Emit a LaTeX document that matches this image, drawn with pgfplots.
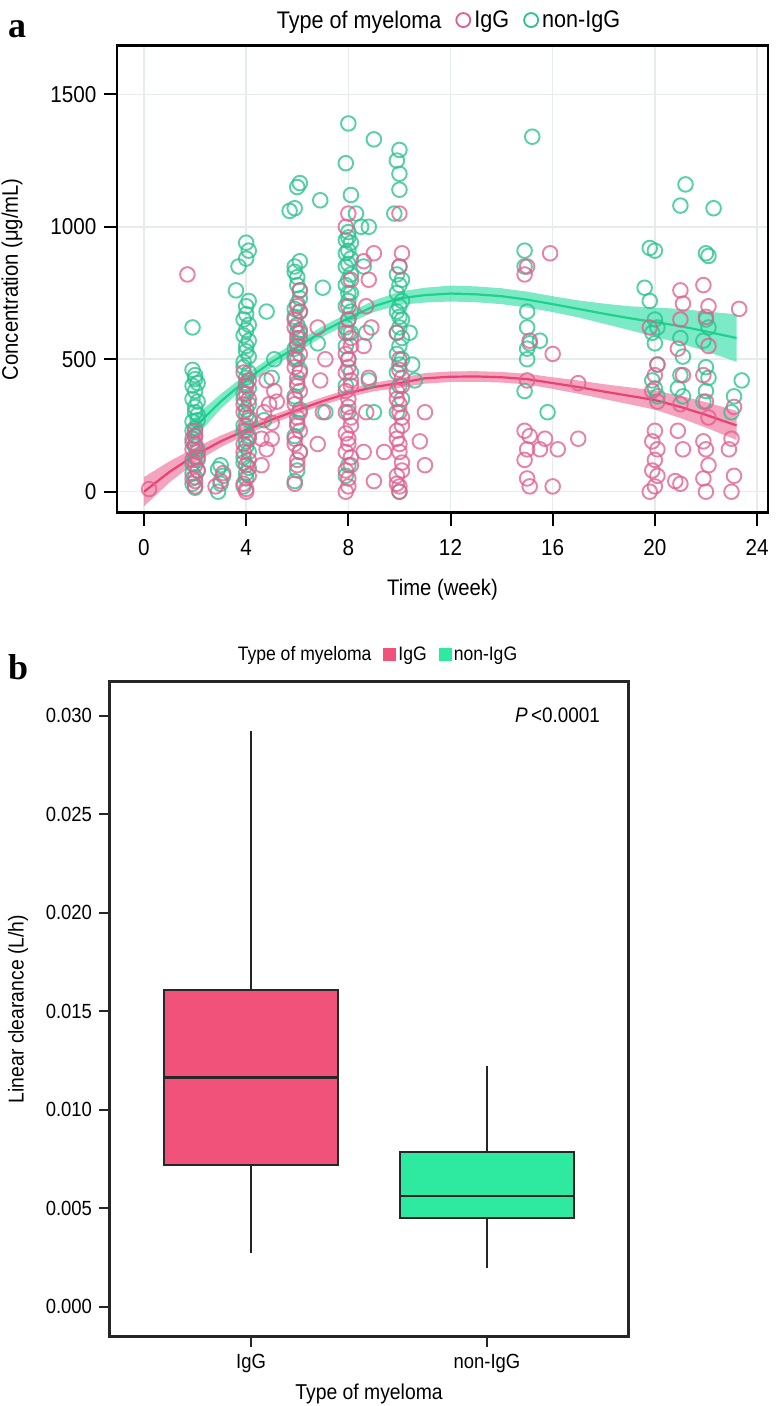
\documentclass[border=0pt]{standalone}
\usepackage{fontspec}
\setmainfont{Liberation Sans}[FakeStretch=0.9]
\newfontfamily\panelfont{Liberation Serif}
\usepackage{pgfplots}
\pgfplotsset{compat=1.18}
\usepgfplotslibrary{statistics}
\definecolor{iggpt}{RGB}{225,95,145}
\definecolor{nonpt}{RGB}{40,195,142}
\definecolor{iggline}{RGB}{232,66,112}
\definecolor{iggrib}{RGB}{240,125,162}
\definecolor{nonline}{RGB}{30,210,140}
\definecolor{nonrib}{RGB}{70,225,175}
\definecolor{iggbox}{RGB}{240,82,121}
\definecolor{nonbox}{RGB}{46,234,160}
\definecolor{gridc}{RGB}{230,235,235}
\definecolor{edgec}{RGB}{38,38,38}

\pgfplotstableread{
t y
1.9 30
2.0 55
2.1 80
1.9 105
2.0 130
2.1 160
1.9 185
2.0 210
2.0 240
1.9 265
2.1 290
2.0 320
1.9 350
2.0 380
2.1 410
2.0 440
1.9 460
1.9 620
2.0 15
1.9 70
2.1 120
2.0 170
1.9 230
2.1 270
2.0 300
2.1 340
1.9 400
2.0 425
2.9 0
3.0 30
3.1 60
2.9 85
3.0 100
3.9 20
4.0 50
4.1 90
3.9 130
4.0 170
4.1 210
3.9 250
4.0 290
4.1 330
3.9 370
4.0 410
4.1 450
3.9 490
4.0 530
4.1 570
4.0 610
3.9 650
4.0 700
4.0 70
3.9 110
4.1 150
4.0 190
3.9 230
4.1 270
4.0 310
3.9 350
4.1 390
4.0 430
3.9 470
4.1 510
4.0 550
3.9 590
4.1 630
4.0 670
4.1 720
3.6 760
3.7 850
4.0 880
4.1 910
4.0 940
4.7 270
5.1 500
4.8 680
5.0 430
5.9 40
6.0 80
6.1 150
5.9 210
6.0 260
6.1 310
5.9 360
6.0 410
6.1 460
5.9 510
6.0 560
6.1 610
5.9 660
6.0 710
6.1 760
6.0 810
5.9 850
6.1 870
6.0 500
5.9 540
6.1 580
6.0 630
5.9 690
6.1 730
6.0 780
5.9 830
6.0 600
6.1 680
5.7 1060
5.9 1070
6.0 1150
6.1 1165
6.9 1100
7.0 770
6.8 560
7.1 300
7.9 60
8.0 100
8.0 300
7.9 400
8.1 450
8.0 500
7.9 550
8.1 600
8.0 650
7.9 700
8.1 750
8.0 800
7.9 850
8.1 880
8.0 910
7.9 950
8.0 980
8.0 600
7.9 620
8.1 680
8.0 720
7.9 780
8.1 820
8.0 860
7.9 900
8.1 940
8.0 960
8.0 750
7.9 1240
8.0 1390
8.1 1120
8.3 1050
8.6 850
8.8 1000
9.0 1330
8.7 600
9.0 300
8.8 420
8.5 1000
10.0 0
9.9 300
10.1 350
10.0 400
9.9 450
10.1 500
10.0 550
9.9 600
10.1 650
10.0 700
9.9 750
10.1 800
10.0 850
10.0 480
9.9 520
10.1 580
10.0 620
9.9 680
10.1 720
10.0 780
9.9 820
10.0 660
9.8 1050
10.0 1140
10.0 1200
9.9 1250
10.0 1290
10.6 420
10.5 480
10.4 600
15.2 1340
14.9 910
14.9 850
15.0 680
15.0 620
15.1 560
15.0 540
15.0 500
14.9 380
15.8 300
15.5 570
19.8 920
20.0 910
19.6 770
19.8 720
20.0 650
20.1 620
19.9 600
20.0 560
20.1 480
19.9 420
20.0 390
20.1 360
21.2 1160
21.0 1080
21.0 580
21.1 510
21.0 440
21.1 360
20.9 390
22.3 1070
22.0 900
22.1 890
22.0 650
22.1 620
21.9 570
22.0 470
22.1 430
22.0 380
21.9 340
23.4 420
23.1 360
23.0 300
}\nonigg

\pgfplotstableread{
t y
0.2 10
1.7 820
2.0 20
1.9 50
2.1 80
2.0 100
1.9 120
2.1 150
2.0 180
1.9 200
2.0 230
2.0 40
2.1 130
1.9 160
2.0 210
2.8 20
3.0 40
3.1 70
4.0 0
3.9 30
4.1 60
4.0 100
3.9 150
4.1 200
4.0 250
3.9 300
4.1 350
4.0 400
3.9 450
4.0 10
4.1 120
3.9 180
4.0 230
4.1 280
3.9 330
4.0 370
4.1 420
4.6 100
4.8 160
4.6 200
5.0 260
4.7 300
4.9 330
5.1 380
4.8 420
5.2 340
5.0 200
5.9 30
6.0 100
6.1 150
5.9 200
6.0 250
6.1 300
5.9 350
6.0 400
6.1 450
5.9 500
6.0 550
6.1 600
5.9 650
6.0 700
6.1 760
6.0 120
5.9 180
6.1 230
6.0 280
5.9 330
6.1 380
6.0 430
5.9 470
6.1 520
6.0 580
5.9 620
6.1 680
6.8 180
7.0 300
6.9 420
7.1 500
6.8 620
7.9 0
8.0 50
8.1 100
7.9 150
8.0 200
8.1 250
7.9 300
8.0 350
8.1 400
7.9 450
8.0 500
8.1 550
7.9 600
8.0 700
8.1 800
8.0 20
7.9 80
8.1 130
8.0 180
7.9 220
8.1 280
8.0 320
7.9 380
8.1 420
8.0 470
7.9 520
8.1 580
8.0 650
8.0 1050
7.9 1000
8.6 150
8.7 300
8.8 430
8.6 550
8.9 620
8.7 700
8.8 800
8.6 870
9.0 900
9.0 40
9.4 150
10.0 0
9.9 30
10.1 80
10.0 150
9.9 200
10.1 250
10.0 300
9.9 350
10.1 400
10.0 500
9.9 600
10.0 20
9.9 60
10.1 110
10.0 180
9.9 230
10.1 280
10.0 330
9.9 380
10.1 430
10.0 460
10.0 850
10.1 900
10.0 1050
11.0 100
10.8 190
11.0 300
15.0 850
14.9 820
15.1 570
15.0 420
14.9 230
15.1 210
15.0 160
14.9 120
15.0 50
15.1 20
15.5 160
15.7 200
15.9 900
16.0 520
16.0 20
16.2 160
17.0 410
17.0 200
19.8 0
20.0 20
20.1 60
19.9 80
20.0 120
20.1 160
19.9 190
20.0 230
20.1 340
19.9 380
20.0 440
20.1 480
19.8 620
21.0 30
20.8 40
21.1 160
20.9 230
21.0 330
21.1 440
20.9 540
21.0 650
21.1 710
21.0 760
22.0 0
21.9 50
22.1 100
22.0 160
21.9 190
22.1 280
22.0 340
21.9 440
22.1 550
22.0 660
22.1 700
21.9 780
23.0 0
23.1 60
22.9 160
23.0 200
23.1 320
23.3 690
}\igg

\begin{document}
\begin{tikzpicture}
\useasboundingbox (0pt,0pt) rectangle (779pt,-1406pt);
\node[anchor=base west, inner sep=0pt, font=\panelfont\bfseries\fontsize{36}{36}\selectfont] at (8pt,-37pt) {a};
\node[anchor=base west, inner sep=0pt, font=\panelfont\bfseries\fontsize{36}{36}\selectfont] at (8pt,-679pt) {b};

% ---------------- panel a ----------------
\begin{axis}[
  scale only axis, width=651pt, height=467pt,
  at={(117pt,-45.7pt)}, anchor=north west,
  xmin=-1.057, xmax=24.43, ymin=-79.3, ymax=1683.5,
  xtick={0,4,8,12,16,20,24}, ytick={0,500,1000,1500},
  grid=major, major grid style={gridc, line width=1.5pt},
  axis line style={black, line width=2.5pt},
  tick style={black, line width=2pt},
  tick align=outside, major tick length=13pt, tick pos=left,
  /pgf/number format/assume math mode=true,
  /pgf/number format/1000 sep={},
  ticklabel style={font=\fontsize{23}{23}\selectfont},
  xticklabel style={yshift=-10pt},
  yticklabel style={xshift=-4pt},
  xlabel={Time (week)}, ylabel={Concentration (μg/mL)},
  every axis x label/.style={at={(axis description cs:0.5,-0.1655)}, anchor=center, font=\fontsize{22.5}{22.5}\selectfont},
  every axis y label/.style={at={(axis description cs:-0.1613,0.5)}, anchor=center, rotate=90, font=\fontsize{22.5}{22.5}\selectfont},
  legend style={at={(0.5,1)}, anchor=south, yshift=14pt, xshift=5pt, draw=none, fill=none,
    font=\fontsize{24}{24}\selectfont, inner sep=0pt,
    /tikz/every odd column/.append style={column sep=2pt},
    /tikz/every even column/.append style={column sep=13pt}},
  legend columns=-1,
  clip=true,
]
\addlegendimage{empty legend}\addlegendentry{Type of myeloma}
\addlegendimage{only marks, mark=o, mark size=7pt, mark options={line width=1.8pt, draw=iggpt}}\addlegendentry{IgG}
\addlegendimage{only marks, mark=o, mark size=7pt, mark options={line width=1.8pt, draw=nonpt}}\addlegendentry{non-IgG}

\addplot[forget plot, only marks, mark=o, mark size=7.3pt, mark options={line width=1.9pt, draw=nonpt, draw opacity=0.78}] table[x=t, y=y] {\nonigg};
\addplot[forget plot, only marks, mark=o, mark size=7.3pt, mark options={line width=1.9pt, draw=iggpt, draw opacity=0.78}] table[x=t, y=y] {\igg};

% ribbons (upper then lower reversed)
\addplot[forget plot, draw=none, fill=nonrib, fill opacity=0.7] coordinates {
(1.8,260) (2,285) (3,368) (4,444) (5,510) (6,567) (7,625) (8,675) (9,722) (10,755) (11,770) (12,778) (13,775) (14,768) (15,755) (16,738) (17,722) (18,710) (19,700) (20,695) (21,690) (22,680) (23.2,670)
(23.2,490) (22,530) (21,560) (20,585) (19,610) (18,634) (17,658) (16,678) (15,695) (14,708) (13,715) (12,718) (11,714) (10,705) (9,678) (8,635) (7,585) (6,527) (5,470) (4,400) (3,312) (2,205) (1.8,170)} -- cycle;
\addplot[forget plot, draw=none, fill=iggrib, fill opacity=0.7] coordinates {
(0,55) (1,115) (2,166) (3,212) (4,251) (5,288) (6,323) (7,357) (8,387) (9,411) (10,428) (11,448) (12,454) (13,455) (14,452) (15,445) (16,432) (17,420) (18,406) (19,394) (20,382) (21,362) (22,338) (23.2,305)
(23.2,195) (22,242) (21,278) (20,310) (19,330) (18,350) (17,370) (16,388) (15,405) (14,412) (13,415) (12,414) (11,408) (10,392) (9,379) (8,357) (7,327) (6,293) (5,256) (4,215) (3,168) (2,110) (1,35) (0,-55)} -- cycle;
% fitted lines
\addplot[forget plot, nonline, line width=2.2pt] coordinates {
(1.8,215) (2,245) (3,340) (4,422) (5,490) (6,547) (7,605) (8,655) (9,700) (10,730) (11,742) (12,748) (13,745) (14,738) (15,725) (16,708) (17,690) (18,672) (19,655) (20,640) (21,625) (22,605) (23.2,580)};
\addplot[forget plot, iggline, line width=2.2pt] coordinates {
(0,0) (1,75) (2,138) (3,190) (4,233) (5,272) (6,308) (7,342) (8,372) (9,395) (10,410) (11,428) (12,434) (13,435) (14,432) (15,425) (16,410) (17,395) (18,378) (19,362) (20,346) (21,320) (22,290) (23.2,250)};
\end{axis}

% ---------------- panel b ----------------
\begin{axis}[
  scale only axis, width=519pt, height=655pt,
  at={(109.5pt,-681.5pt)}, anchor=north west,
  xmin=0.4, xmax=2.6, ymin=-0.00151, ymax=0.03173,
  xtick={1,2}, xticklabels={IgG,non-IgG},
  ytick={0,0.005,0.01,0.015,0.02,0.025,0.03},
  scaled y ticks=false,
  yticklabel style={xshift=-4pt, /pgf/number format/.cd, fixed, fixed zerofill, precision=3},
  /pgf/number format/assume math mode=true,
  axis line style={edgec, line width=2.2pt},
  tick style={edgec, line width=2pt},
  tick align=outside, major tick length=10pt, tick pos=left,
  ticklabel style={font=\fontsize{20.5}{20.5}\selectfont},
  xticklabel style={yshift=-4pt},
  xlabel={Type of myeloma}, ylabel={Linear clearance (L/h)},
  every axis x label/.style={at={(axis description cs:0.5,-0.0876)}, anchor=center, font=\fontsize{21.5}{21.5}\selectfont},
  every axis y label/.style={at={(axis description cs:-0.176,0.5)}, anchor=center, rotate=90, font=\fontsize{21.5}{21.5}\selectfont},
  legend style={at={(0.5,1)}, anchor=south, yshift=17pt, xshift=8pt, draw=none, fill=none,
    font=\fontsize{19.5}{19.5}\selectfont, inner sep=0pt,
    /tikz/every odd column/.append style={column sep=1pt},
    /tikz/every even column/.append style={column sep=10pt}},
  legend columns=-1,
  boxplot/draw direction=y,
]
\addlegendimage{empty legend}\addlegendentry{Type of myeloma}
\addlegendimage{only marks, mark=square*, mark size=6pt, mark options={draw=iggbox, fill=iggbox}}\addlegendentry{IgG}
\addlegendimage{only marks, mark=square*, mark size=6pt, mark options={draw=nonbox, fill=nonbox}}\addlegendentry{non-IgG}

\addplot[forget plot, boxplot prepared={median=0.01163, upper quartile=0.01609, lower quartile=0.00720,
  upper whisker=0.02921, lower whisker=0.00275, draw position=1, box extend=0.74, whisker extend=0},
  draw=edgec, line width=2.2pt, fill=iggbox] coordinates {};
\addplot[forget plot, boxplot prepared={median=0.00562, upper quartile=0.00785, lower quartile=0.00450,
  upper whisker=0.01220, lower whisker=0.00196, draw position=2, box extend=0.74, whisker extend=0},
  draw=edgec, line width=2.2pt, fill=nonbox] coordinates {};

\node[anchor=east, inner sep=0pt, font=\fontsize{21}{21}\selectfont] at (axis cs:2.48,0.0300) {\textit{P}\,<0.0001};
\end{axis}
\end{tikzpicture}
\end{document}
